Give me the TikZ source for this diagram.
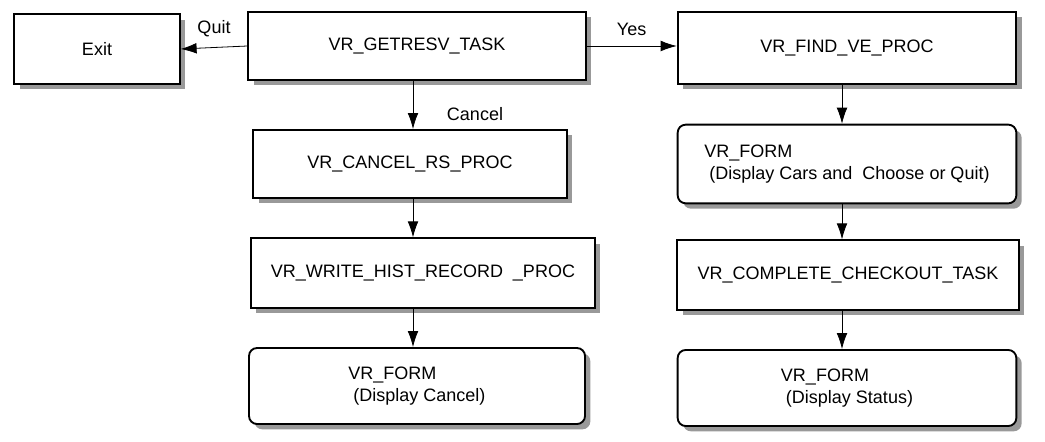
\documentclass[tikz,border=0pt]{standalone}
\usepackage{fontspec}
\setmainfont{Liberation Sans}
\usetikzlibrary{arrows.meta}
\begin{document}
\begin{tikzpicture}[x=0.75pt,y=-0.75pt,
  box/.style={draw,line width=1.4pt,fill=white,font=\fontsize{13.5}{16}\selectfont,align=left,inner sep=0pt,
    preaction={fill=black!40,draw=none,transform canvas={xshift=4pt,yshift=-4pt}}},
  rbox/.style={box,rounded corners=6pt},
  arr/.style={-{Latex[length=12pt,width=8pt]},line width=0.6pt},
  lbl/.style={font=\fontsize{13.5}{16}\selectfont}]
\useasboundingbox (0,0) rectangle (1045,442);
% top row
\node[box,minimum width=124pt,minimum height=52pt] (exit) at (97,49) {Exit};
\node[box,minimum width=253pt,minimum height=51pt] (getresv) at (417,46) {VR\_GETRESV\_TASK};
\node[box,minimum width=254pt,minimum height=54pt] (findve) at (847,48) {VR\_FIND\_VE\_PROC};
% left column
\node[box,minimum width=235pt,minimum height=51pt] (cancelrs) at (410,164) {VR\_CANCEL\_RS\_PROC};
\node[box,minimum width=258pt,minimum height=52pt] (writehist) at (423,273) {VR\_WRITE\_HIST\_RECORD\ \ \_PROC};
\node[rbox,minimum width=252pt,minimum height=57pt] (formcancel) at (417,386) {VR\_FORM\\\ (Display Cancel)};
% right column
\node[rbox,minimum width=254pt,minimum height=59pt] (formcars) at (847,164) {VR\_FORM\\\ (Display Cars and\ \ Choose or Quit)};
\node[box,minimum width=256pt,minimum height=52pt] (complete) at (848,275) {VR\_COMPLETE\_CHECKOUT\_TASK};
\node[rbox,minimum width=254pt,minimum height=57pt] (formstatus) at (847,388) {VR\_FORM\\\ (Display Status)};
% connectors
\draw[arr] (getresv.west) -- (exit.east) node[lbl,midway,above=4pt] {Quit};
\draw[arr] (getresv.east) -- (findve.west |- getresv.east) node[lbl,midway,above=4pt] {Yes};
\draw[arr] (getresv.south -| 413,0) -- (cancelrs.north -| 413,0);
\node[lbl] (cancel) at (475,114) {Cancel};
\draw[arr] (cancelrs.south -| 413,0) -- (writehist.north -| 413,0);
\draw[arr] (writehist.south -| 413,0) -- (formcancel.north -| 413,0);
\draw[arr] (findve.south -| 842,0) -- (formcars.north -| 842,0);
\draw[arr] (formcars.south -| 842,0) -- (complete.north -| 842,0);
\draw[arr] (complete.south -| 842,0) -- (formstatus.north -| 842,0);
\end{tikzpicture}
\end{document}
